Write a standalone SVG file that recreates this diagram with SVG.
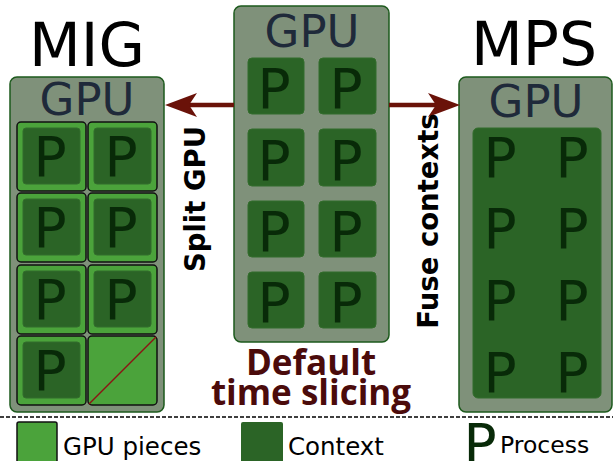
<svg xmlns="http://www.w3.org/2000/svg" width="613" height="461" viewBox="0 0 613 461">
  <defs>
    <style>
      .box { fill: #7f917a; stroke: #1d5a1d; stroke-width: 1.5; }
      .piece { fill: #4ba33b; stroke: #111; stroke-width: 1.5; }
      .ctx { fill: #2b6426; stroke: #336d2c; stroke-width: 1; }
      .p { font-family: "DejaVu Sans", sans-serif; font-size: 55px; fill: #082a08; text-anchor: middle; }
      .gpu { font-family: "DejaVu Sans", sans-serif; font-size: 45px; fill: #1f2a3a; text-anchor: middle; }
      .title { font-family: "DejaVu Sans", sans-serif; font-size: 60px; fill: #000; text-anchor: middle; }
      .side { font-family: "DejaVu Sans", sans-serif; font-weight: bold; font-size: 27.5px; fill: #000; text-anchor: middle; }
      .legend { font-family: "DejaVu Sans", sans-serif; font-size: 24.5px; fill: #000; }
      .arrow { stroke: #6a1209; stroke-width: 4.5; fill: none; }
    </style>
    <marker id="head" viewBox="0 0 32 24" refX="12" refY="12" markerWidth="32" markerHeight="24" markerUnits="userSpaceOnUse" orient="auto">
      <path d="M0,0 L32,12 L0,24 L8,12 Z" fill="#6a1209"/>
    </marker>
  </defs>

  <rect width="613" height="461" fill="#fff"/>

  <!-- MIG: GPU split into pieces -->
  <g id="mig">
    <text class="title" x="87" y="66">MIG</text>
    <rect class="box" x="10" y="77" width="154" height="335" rx="7"/>
    <text class="gpu" x="87" y="115">GPU</text>
    <rect class="piece" x="17" y="122" width="69" height="69" rx="4"/>
    <rect class="piece" x="88" y="122" width="69" height="69" rx="4"/>
    <rect class="piece" x="17" y="193" width="69" height="69" rx="4"/>
    <rect class="piece" x="88" y="193" width="69" height="69" rx="4"/>
    <rect class="piece" x="17" y="265" width="69" height="69" rx="4"/>
    <rect class="piece" x="88" y="265" width="69" height="69" rx="4"/>
    <rect class="piece" x="17" y="336" width="69" height="69" rx="4"/>
    <rect class="piece" x="88" y="336" width="69" height="69" rx="4"/>
    <rect class="ctx" x="23" y="128" width="57" height="56" rx="3"/>
    <rect class="ctx" x="94" y="128" width="57" height="56" rx="3"/>
    <rect class="ctx" x="23" y="199" width="57" height="56" rx="3"/>
    <rect class="ctx" x="94" y="199" width="57" height="56" rx="3"/>
    <rect class="ctx" x="23" y="271" width="57" height="56" rx="3"/>
    <rect class="ctx" x="94" y="271" width="57" height="56" rx="3"/>
    <rect class="ctx" x="23" y="342" width="57" height="56" rx="3"/>
    <text class="p" x="50" y="176">P</text>
    <text class="p" x="121" y="176">P</text>
    <text class="p" x="50" y="247">P</text>
    <text class="p" x="121" y="247">P</text>
    <text class="p" x="50" y="319">P</text>
    <text class="p" x="121" y="319">P</text>
    <text class="p" x="50" y="390">P</text>
    <line x1="89" y1="404" x2="156" y2="337" stroke="#8b1414" stroke-width="1.5"/>
  </g>

  <!-- Default GPU with time-sliced contexts -->
  <g id="default">
    <rect class="box" x="234" y="6" width="155" height="336" rx="7"/>
    <text class="gpu" x="312" y="47">GPU</text>
    <rect class="ctx" x="248" y="58" width="56" height="56" rx="4"/>
    <rect class="ctx" x="319" y="58" width="57" height="56" rx="4"/>
    <rect class="ctx" x="248" y="129" width="56" height="57" rx="4"/>
    <rect class="ctx" x="319" y="129" width="57" height="57" rx="4"/>
    <rect class="ctx" x="248" y="201" width="56" height="56" rx="4"/>
    <rect class="ctx" x="319" y="201" width="57" height="56" rx="4"/>
    <rect class="ctx" x="248" y="272" width="56" height="56" rx="4"/>
    <rect class="ctx" x="319" y="272" width="57" height="56" rx="4"/>
    <text class="p" x="274" y="108">P</text>
    <text class="p" x="346" y="108">P</text>
    <text class="p" x="274" y="180">P</text>
    <text class="p" x="346" y="180">P</text>
    <text class="p" x="274" y="251">P</text>
    <text class="p" x="346" y="251">P</text>
    <text class="p" x="274" y="322">P</text>
    <text class="p" x="346" y="322">P</text>
    <text x="311" y="375" font-family="'Open Sans', sans-serif" font-weight="bold" font-size="35" fill="#4b0b0b" text-anchor="middle">Default</text>
    <text x="311" y="405" font-family="'Open Sans', sans-serif" font-weight="bold" font-size="35" fill="#4b0b0b" text-anchor="middle">time slicing</text>
  </g>

  <!-- MPS: contexts fused into one -->
  <g id="mps">
    <text class="title" x="534" y="65">MPS</text>
    <rect class="box" x="459" y="77" width="153" height="335" rx="7"/>
    <text class="gpu" x="536" y="117">GPU</text>
    <rect class="ctx" x="473" y="128" width="128" height="270" rx="5"/>
    <text class="p" x="500" y="177">P</text>
    <text class="p" x="572" y="177">P</text>
    <text class="p" x="500" y="248">P</text>
    <text class="p" x="572" y="248">P</text>
    <text class="p" x="500" y="320">P</text>
    <text class="p" x="572" y="320">P</text>
    <text class="p" x="500" y="392">P</text>
    <text class="p" x="572" y="392">P</text>
  </g>

  <!-- connectors -->
  <g id="connectors">
    <line class="arrow" x1="234" y1="105" x2="185" y2="105" marker-end="url(#head)"/>
    <line class="arrow" x1="389" y1="105" x2="440" y2="105" marker-end="url(#head)"/>
    <text class="side" transform="translate(205,199) rotate(-90)">Split GPU</text>
    <text class="side" transform="translate(438,221) rotate(-90)">Fuse contexts</text>
  </g>

  <!-- legend -->
  <g id="legend">
    <line x1="0" y1="417" x2="613" y2="417" stroke="#000" stroke-width="1.5" stroke-dasharray="4,2"/>
    <rect class="piece" x="17" y="422" width="40" height="42" rx="2" stroke-width="1"/>
    <text class="legend" x="63" y="455">GPU pieces</text>
    <rect x="241" y="422" width="42" height="42" rx="2" fill="#2b6426"/>
    <text class="legend" x="288" y="455">Context</text>
    <text x="480" y="463" font-family="'DejaVu Sans', sans-serif" font-size="55" fill="#082a08" text-anchor="middle">P</text>
    <text x="500" y="453" font-family="'DejaVu Sans', sans-serif" font-size="23.5" fill="#000">Process</text>
  </g>
</svg>
